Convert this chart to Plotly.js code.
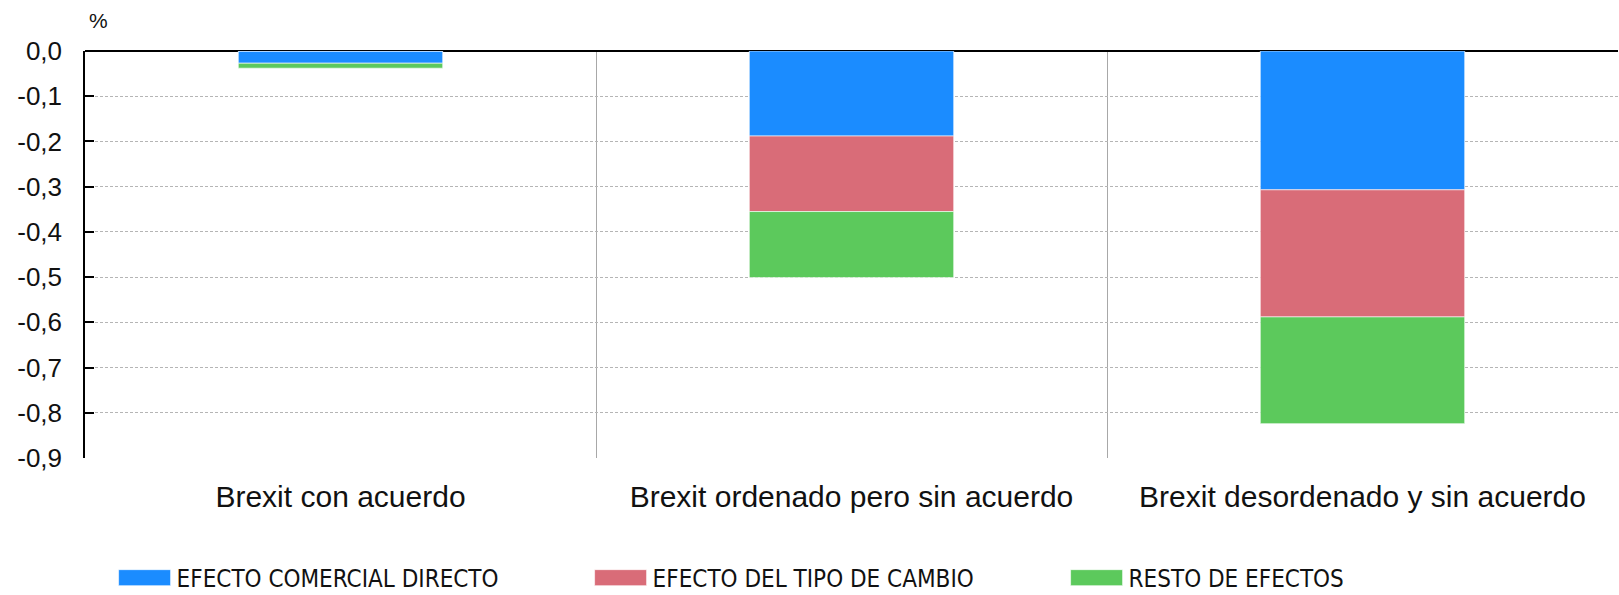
<!DOCTYPE html>
<html>
<head>
<meta charset="utf-8">
<script src="https://cdn.plot.ly/plotly-3.0.1.min.js"></script>
<style>html,body{margin:0;padding:0;background:#fff;}#chart{width:1619px;height:595px;}</style>
</head>
<body>
<div id="chart"></div>
<script>
// Categories and series (% impact)
const categories = ["Brexit con acuerdo", "Brexit ordenado pero sin acuerdo", "Brexit desordenado y sin acuerdo"];
const efectoComercial = [-0.027, -0.188, -0.307];
const efectoTipoCambio = [0.0, -0.167, -0.281];
const restoEfectos = [-0.011, -0.146, -0.236];
const seriesNames = ["EFECTO COMERCIAL DIRECTO", "EFECTO DEL TIPO DE CAMBIO", "RESTO DE EFECTOS"];
const seriesColors = ["#1b8cff", "#d96c78", "#5cc95c"];
const yTickVals = [0, -0.1, -0.2, -0.3, -0.4, -0.5, -0.6, -0.7, -0.8, -0.9];
const yTickText = ["0,0", "-0,1", "-0,2", "-0,3", "-0,4", "-0,5", "-0,6", "-0,7", "-0,8", "-0,9"];

const baseFont = "Liberation Sans, Arial, Helvetica, sans-serif";
const narrowFont = "DejaVu Sans Condensed, Liberation Sans, sans-serif";

const seriesValues = [efectoComercial, efectoTipoCambio, restoEfectos];
const traces = seriesValues.map((vals, i) => ({
  type: "bar",
  name: seriesNames[i],
  x: categories,
  y: vals,
  marker: { color: seriesColors[i], line: { color: "rgba(255,255,255,0.6)", width: 1 } },
  hoverinfo: "x+y+name"
}));

const layout = {
  width: 1619,
  height: 595,
  margin: { l: 85, r: 1, t: 51, b: 137, autoexpand: false },
  paper_bgcolor: "#ffffff",
  plot_bgcolor: "#ffffff",
  barmode: "relative",
  bargap: 0.6,
  font: { family: baseFont, color: "#111111" },
  xaxis: {
    type: "category",
    tickson: "boundaries",
    showgrid: true,
    gridcolor: "#a8a8a8",
    gridwidth: 1,
    ticks: "",
    showline: false,
    zeroline: false,
    tickfont: { family: baseFont, size: 30, color: "#111111" },
    ticklabelstandoff: 18
  },
  xaxis2: {
    overlaying: "x",
    anchor: "y",
    side: "top",
    type: "linear",
    range: [-0.5, 2.5],
    tickvals: [0.5, 1.5],
    ticks: "inside",
    ticklen: 8,
    tickwidth: 1.5,
    tickcolor: "#000000",
    showticklabels: false,
    showgrid: false,
    zeroline: false,
    showline: true,
    linecolor: "#000000",
    linewidth: 2
  },
  yaxis: {
    range: [-0.9, 0],
    tickvals: yTickVals,
    ticktext: yTickText,
    ticks: "inside",
    ticklen: 9,
    tickwidth: 1.5,
    tickcolor: "#000000",
    showline: true,
    linecolor: "#000000",
    linewidth: 1.5,
    showgrid: true,
    gridcolor: "#b5b5b5",
    griddash: "3px,2px",
    gridwidth: 1,
    zeroline: true,
    zerolinecolor: "#000000",
    zerolinewidth: 2,
    tickfont: { family: baseFont, size: 26, color: "#111111" },
    ticklabelstandoff: 16
  },
  showlegend: true,
  legend: {
    orientation: "h",
    x: 0.018,
    xanchor: "left",
    y: -0.295,
    yanchor: "middle",
    entrywidth: 407,
    entrywidthmode: "pixels",
    itemwidth: 54,
    traceorder: "normal",
    font: { family: narrowFont, size: 24, color: "#111111" },
    bgcolor: "rgba(0,0,0,0)"
  },
  annotations: [{
    text: "%",
    xref: "paper", yref: "paper",
    x: 0.009, y: 1.076,
    xanchor: "center", yanchor: "middle",
    showarrow: false,
    font: { family: baseFont, size: 21, color: "#111111" }
  }]
};

Plotly.newPlot("chart", traces, layout, { displayModeBar: false, responsive: false }).then(gd => {
  gd.querySelectorAll(".legend .legendpoints path").forEach(p => {
    p.setAttribute("d", "M26,8H-26V-8H26Z");
  });
});
</script>
</body>
</html>
